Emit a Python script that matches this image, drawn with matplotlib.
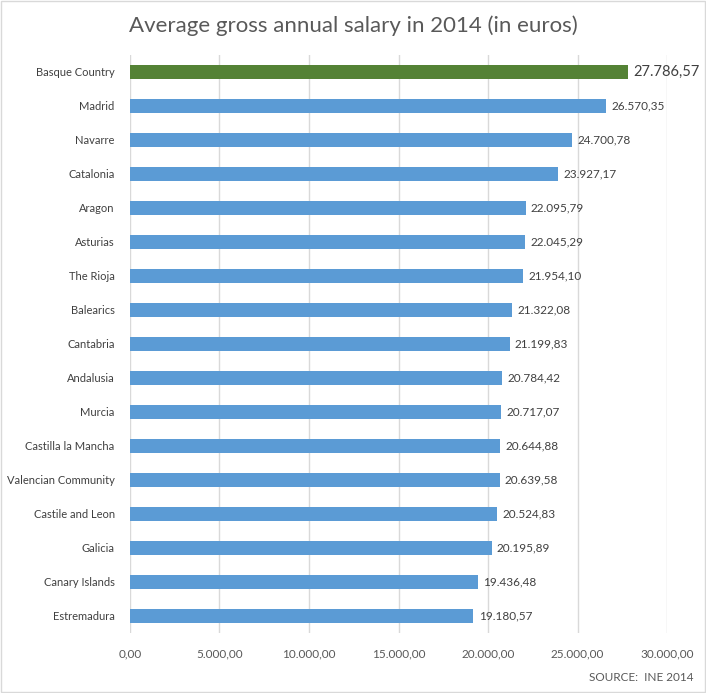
import matplotlib.pyplot as plt
from matplotlib.patches import Rectangle

regions = ['Basque Country', 'Madrid', 'Navarre', 'Catalonia', 'Aragon', 'Asturias',
           'The Rioja', 'Balearics', 'Cantabria', 'Andalusia', 'Murcia',
           'Castilla la Mancha', 'Valencian Community', 'Castile and Leon',
           'Galicia', 'Canary Islands', 'Estremadura']
salary = [27786.57, 26570.35, 24700.78, 23927.17, 22095.79, 22045.29, 21954.10,
          21322.08, 21199.83, 20784.42, 20717.07, 20644.88, 20639.58, 20524.83,
          20195.89, 19436.48, 19180.57]
ticks = [0, 5000, 10000, 15000, 20000, 25000, 30000]


def euro(v):
    s = f"{v:,.2f}"
    return s.replace(',', 'X').replace('.', ',').replace('X', '.')


plt.rcParams['font.family'] = ['Lato', 'DejaVu Sans']
txt = '#595959'

fig = plt.figure(figsize=(7.06, 6.93), dpi=100)
ax = fig.add_axes([0.184, 0.087, 0.761, 0.834])

ypos = list(range(len(regions)))[::-1]
colors = ['#548235'] + ['#5b9bd5'] * (len(regions) - 1)
ax.barh(ypos, salary, height=0.42, color=colors, zorder=3)

for i, (y, v) in enumerate(zip(ypos, salary)):
    ax.text(v + 300, y, euro(v), va='center', ha='left',
            fontsize=10.5 if i == 0 else 8.5, color='#404040')

ax.set_xlim(0, 30000)
ax.set_ylim(-0.5, len(regions) - 0.5)
ax.set_xticks(ticks)
ax.set_xticklabels([euro(t) for t in ticks], fontsize=8.5, color=txt)
ax.set_yticks(ypos)
ax.set_yticklabels(regions, fontsize=8, color='#404040')
ax.tick_params(length=0, pad=11)
ax.tick_params(axis='x', pad=11)
ax.grid(axis='x', color='#d9d9d9', linewidth=1, zorder=0)
for s in ax.spines.values():
    s.set_visible(False)

fig.text(0.5, 0.963, 'Average gross annual salary in 2014 (in euros)',
         ha='center', va='center', fontsize=16, color=txt)
fig.text(0.983, 0.022, 'SOURCE:  INE 2014', ha='right', va='center',
         fontsize=8.5, color=txt)
fig.patches.append(Rectangle((0.002, 0.002), 0.996, 0.996, transform=fig.transFigure,
                             fill=False, edgecolor='#d9d9d9', linewidth=1))

fig.savefig('out.png', dpi=100)
